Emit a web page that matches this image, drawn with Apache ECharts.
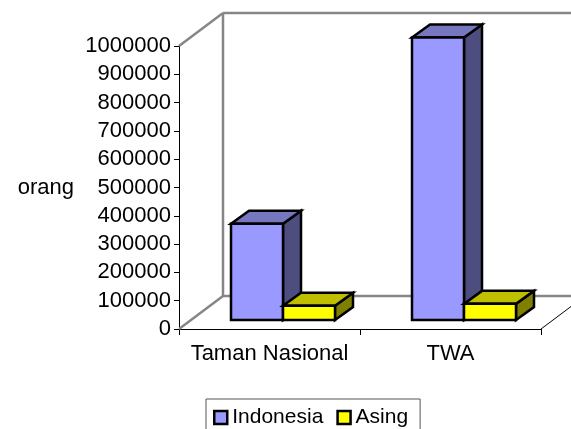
<!DOCTYPE html>
<html style="height: 100%">
<head>
    <meta charset="utf-8">
    <script src="https://cdn.jsdelivr.net/npm/echarts@6/dist/echarts.min.js"></script>
</head>
<body style="height: 100%; margin: 0; background: #fff">
<div id="container" style="width: 571px; height: 429px"></div>
<script type="text/javascript">
    var categories = ['Taman Nasional', 'TWA'];
    var indonesia = [340000, 998000];
    var asing = [50000, 57000];
    var tickStep = 100000;
    var tickMax = 1000000;

    var font = '"Liberation Sans", Arial, sans-serif';
    var fontSize = 22;
    var depthX = 18, depthY = 13;   // depth of a bar
    var wallX = 44, wallY = 33;     // depth of the chart box
    var insetX = 52, insetY = 9;    // bars stand a little behind the front edge
    var barWidth = 52;

    function poly(points, fill, width) {
        return {
            type: 'polygon',
            shape: { points: points },
            style: { fill: fill, stroke: '#000', lineWidth: width, lineJoin: 'miter' }
        };
    }

    function seg(x1, y1, x2, y2, color, width) {
        return {
            type: 'line',
            shape: { x1: x1, y1: y1, x2: x2, y2: y2 },
            style: { stroke: color, lineWidth: width, fill: null }
        };
    }

    function bar3d(slot, front, top, side) {
        return function (params, api) {
            var base = api.coord([api.value(0), 0]);
            var head = api.coord([api.value(0), api.value(1)]);
            var band = api.size([1, 0])[0];
            var x0 = base[0] - band / 2 + insetX + slot * barWidth;
            var x1 = x0 + barWidth;
            var y0 = base[1] - insetY;
            var y1 = head[1] - insetY;
            return {
                type: 'group',
                children: [
                    poly([[x1, y0], [x1 + depthX, y0 - depthY], [x1 + depthX, y1 - depthY], [x1, y1]], side, 2.5),
                    poly([[x0, y1], [x0 + depthX, y1 - depthY], [x1 + depthX, y1 - depthY], [x1, y1]], top, 2.5),
                    poly([[x0, y0], [x1, y0], [x1, y1], [x0, y1]], front, 2.5)
                ]
            };
        };
    }

    function walls(params, api) {
        var c = params.coordSys;
        var l = c.x, t = c.y, b = c.y + c.height, r = c.x + c.width;
        var grey = '#868686';
        return {
            type: 'group',
            children: [
                seg(l, t, l + wallX, t - wallY, grey, 2.5),
                seg(l, b, l + wallX, b - wallY, grey, 2.5),
                seg(l + wallX, t - wallY, l + wallX, b - wallY, grey, 2.5),
                seg(l + wallX, t - wallY, r + wallX, t - wallY, grey, 2.5),
                seg(l + wallX, b - wallY, r + wallX, b - wallY, grey, 2.5),
                seg(r, b, r + wallX, b - wallY, '#000', 1)
            ]
        };
    }

    var option = {
        animation: false,
        textStyle: { fontFamily: font },
        grid: { left: 179, top: 46, width: 362, height: 283, outerBoundsMode: 'none' },
        legend: {
            left: 206,
            top: 399,
            data: [
                { name: 'Indonesia', icon: 'rect', itemStyle: { color: '#9999FF', borderColor: '#000', borderWidth: 2.5 } },
                { name: 'Asing', icon: 'rect', itemStyle: { color: '#FFFF00', borderColor: '#000', borderWidth: 2.5 } }
            ],
            itemWidth: 13,
            itemHeight: 13,
            itemGap: 13,
            padding: [8, 12, 12, 7],
            borderColor: '#555',
            borderWidth: 1,
            textStyle: { fontFamily: font, fontSize: 21, color: '#000' }
        },
        xAxis: {
            type: 'category',
            data: categories,
            axisLine: { lineStyle: { color: '#000', width: 1 } },
            axisTick: { show: true, interval: 0, length: 6, lineStyle: { color: '#000' } },
            axisLabel: { interval: 0, fontFamily: font, fontSize: fontSize, color: '#000', margin: 14 }
        },
        yAxis: {
            type: 'value',
            min: 0,
            max: tickMax,
            interval: tickStep,
            name: 'orang',
            nameLocation: 'middle',
            nameRotate: 0,
            nameGap: 105,
            nameTextStyle: { fontFamily: font, fontSize: 22, color: '#000', padding: [12, 0, 0, 0] },
            splitLine: { show: false },
            axisLine: { show: true, lineStyle: { color: '#000', width: 1 } },
            axisTick: { show: true, length: 5, lineStyle: { color: '#000' } },
            axisLabel: {
                fontFamily: font, fontSize: fontSize, color: '#000', margin: 8, padding: [3, 0, 0, 0],
                formatter: function (v) { return String(v); }
            }
        },
        series: [
            { type: 'custom', name: 'walls', silent: true, renderItem: walls, data: [[0, 0]], z: 1 },
            {
                type: 'custom', name: 'Indonesia', z: 2,
                renderItem: bar3d(0, '#9999FF', '#7777BF', '#4D4D80'),
                encode: { x: 0, y: 1 },
                data: categories.map(function (c, i) { return [i, indonesia[i]]; })
            },
            {
                type: 'custom', name: 'Asing', z: 3,
                renderItem: bar3d(1, '#FFFF00', '#BFBF00', '#808000'),
                encode: { x: 0, y: 1 },
                data: categories.map(function (c, i) { return [i, asing[i]]; })
            }
        ]
    };

    var myChart = echarts.init(document.getElementById('container'));
    myChart.setOption(option);
</script>
</body>
</html>
